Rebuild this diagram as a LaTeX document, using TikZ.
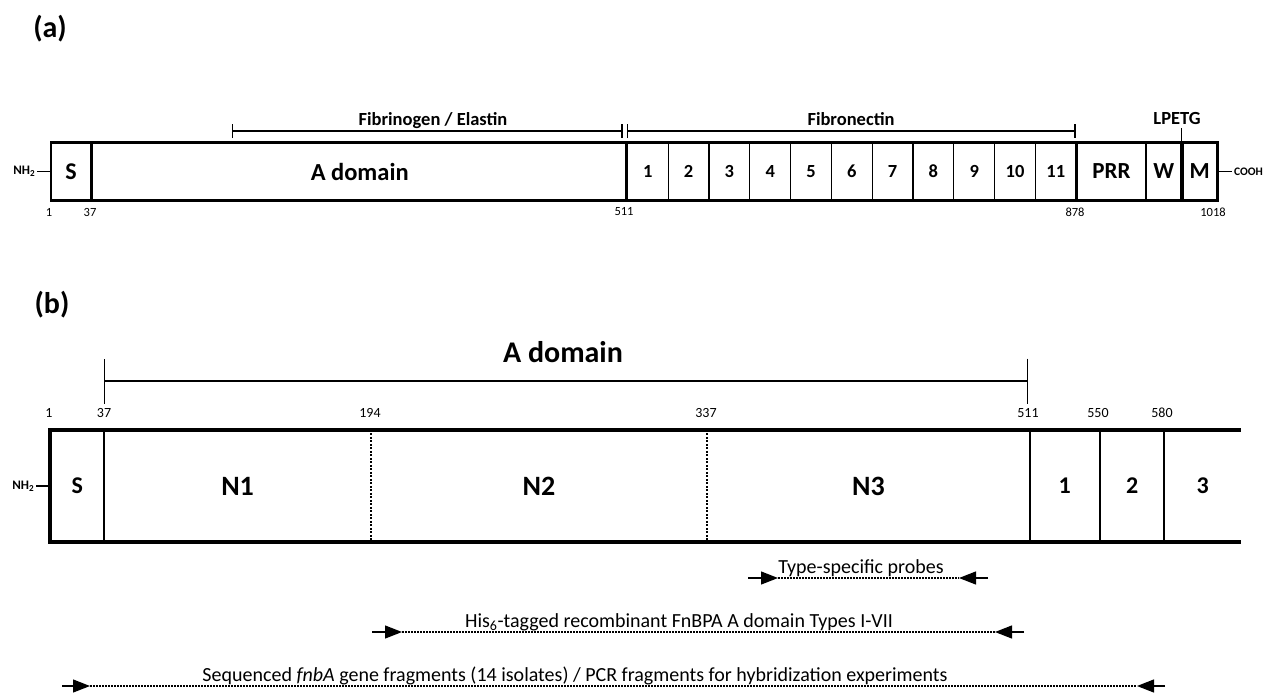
\documentclass[tikz,border=0pt]{standalone}
\usepackage{fontspec}
\setmainfont{Carlito}
\usetikzlibrary{positioning,arrows.meta}

\begin{document}
\begin{tikzpicture}[x=1pt,y=-1pt,>=latex,
    panel/.style={font=\bfseries\fontsize{30}{30}\selectfont},
    dom/.style={draw,line width=1.2pt,anchor=west,minimum height=57pt,inner sep=0pt,font=\bfseries\fontsize{18.5}{18.5}\selectfont},
    seg/.style={anchor=west,minimum height=112pt,inner sep=0pt,font=\bfseries\fontsize{24}{24}\selectfont},
    lab/.style={anchor=base,font=\bfseries\fontsize{18.5}{18.5}\selectfont},
    num/.style={inner sep=1pt,font=\fontsize{12.5}{12.5}\selectfont},
    term/.style={inner sep=1.5pt,font=\bfseries\fontsize{13}{13}\selectfont},
    bracket/.style={line width=1.2pt,{Bar[width=14pt]}-{Bar[width=14pt]}},
    stub/.style={line width=1.2pt,-{Triangle[length=17pt,width=13pt]}},
    dotline/.style={line width=2pt,dash pattern=on 1.5pt off 1.5pt},
    hint/.style={anchor=base,font=\fontsize{20}{20}\selectfont}]
    \useasboundingbox (0,0) rectangle (1266,694);

    % (a) full-length protein
    \node[panel] (pa) at (50,29) {(a)};
    \node[dom,minimum width=39pt,font=\bfseries\fontsize{24}{24}\selectfont] (S) at (51,171.5) {S};
    \node[dom,minimum width=535.8pt,font=\bfseries\fontsize{24.5}{24.5}\selectfont] (A) at (S.east) {A domain};
    \foreach \i in {1,...,11}
        \node[dom,minimum width=40.8pt] (f\i) at ({626.8+(\i-1)*40.8},171.5) {\i};
    \node[dom,minimum width=68pt,font=\bfseries\fontsize{23}{23}\selectfont] (PRR) at (f11.east) {PRR};
    \node[dom,minimum width=34.5pt,font=\bfseries\fontsize{23}{23}\selectfont] (W) at (PRR.east) {W};
    \node[dom,minimum width=34.5pt,font=\bfseries\fontsize{23}{23}\selectfont] (M) at (W.east) {M};
    \draw[line width=2.8pt] (S.north west) rectangle (M.south east);
    \foreach \n in {A,f1,PRR,W}
        \draw[line width=2.8pt] (\n.north west) -- (\n.south west);
    \draw[line width=4pt] (M.north west) -- (M.south west);

    \node[term,left=14pt of S] (nh2a) {NH\textsubscript{2}};
    \draw[line width=1.2pt] (nh2a) -- (S);
    \node[term,right=15pt of M,font=\bfseries\fontsize{11.5}{11.5}\selectfont] (cooha) {COOH};
    \draw[line width=1.2pt] (M) -- (cooha);

    \coordinate (fe1) at (232,131);
    \coordinate (fe2) at (622.5,131);
    \coordinate (fn1) at (627,131);
    \coordinate (fn2) at (1075.6,131);
    \draw[bracket] (fe1) -- (fe2);
    \draw[bracket] (fn1) -- (fn2);
    \node[lab] (fel) at (433,125) {Fibrinogen / Elastin};
    \node[lab] (fnl) at (851,125) {Fibronectin};
    \node[lab] (lpetg) at (1177,124) {LPETG};
    \draw[line width=1.5pt] (M.north west) -- (M.north west |- lpetg.south);

    \foreach \p/\t in {49/1,90/37,624/511,1075/878,1213/1018}
        \node[num] (a\t) at (\p,212) {\t};

    % (b) A domain detail
    \node[panel] (pb) at (52,305) {(b)};
    \node[seg,minimum width=54pt] (Sb) at (50,486) {S};
    \node[seg,minimum width=266pt,font=\bfseries\fontsize{28}{28}\selectfont] (N1) at (Sb.east) {N1};
    \node[seg,minimum width=336pt,font=\bfseries\fontsize{28}{28}\selectfont] (N2) at (N1.east) {N2};
    \node[seg,minimum width=322pt,font=\bfseries\fontsize{28}{28}\selectfont] (N3) at (N2.east) {N3};
    \node[seg,minimum width=70pt] (r1) at (N3.east) {1};
    \node[seg,minimum width=64pt] (r2) at (r1.east) {2};
    \node[seg,minimum width=76pt] (r3) at (r2.east) {3};
    \draw[line width=4.5pt] (r3.north east) -- (Sb.north west) -- (Sb.south west) -- (r3.south east);
    \foreach \n in {N1,r1,r2,r3}
        \draw[line width=2pt] (\n.north west) -- (\n.south west);
    \foreach \n in {N2,N3}
        \draw[line width=2pt,dash pattern=on 2pt off 1.5pt] (\n.north west) -- (\n.south west);

    \node[term,left=14pt of Sb] (nh2b) {NH\textsubscript{2}};
    \draw[line width=1.2pt] (nh2b) -- (Sb);

    \coordinate (ad1) at (104,381);
    \coordinate (ad2) at (1028,381);
    \draw[line width=1.3pt,{Bar[width=45pt]}-{Bar[width=45pt]}] (ad1) -- (ad2);
    \node[font=\bfseries\fontsize{30}{30}\selectfont] (adl) at (563,352) {A domain};

    \foreach \p/\t in {49/1,104/37,370/194,706/337,1028/511,1098/550,1162/580}
        \node[num,font=\fontsize{14}{14}\selectfont] (b\t) at (\p,413) {\t};

    % fragments
    \foreach \nm/\yy/\xa/\xb/\xc/\xd in {pr/578/748/778/959/988,his/632/372/402/995/1024,seq/686/62/90/1137/1165}{
        \coordinate (\nm1) at (\xa,\yy);
        \coordinate (\nm2) at (\xb,\yy);
        \coordinate (\nm3) at (\xc,\yy);
        \coordinate (\nm4) at (\xd,\yy);
        \draw[stub] (\nm1) -- (\nm2);
        \draw[stub] (\nm4) -- (\nm3);
        \draw[dotline] (\nm2) -- (\nm3);
    }
    \node[hint] (prl) at (861,573) {Type-specific probes};
    \node[hint] (hisl) at (679,627) {His\textsubscript{6}-tagged recombinant FnBPA A domain Types I-VII};
    \node[hint] (seql) at (575,681) {Sequenced \textit{fnbA} gene fragments (14 isolates) / PCR fragments for hybridization experiments};
\end{tikzpicture}
\end{document}
